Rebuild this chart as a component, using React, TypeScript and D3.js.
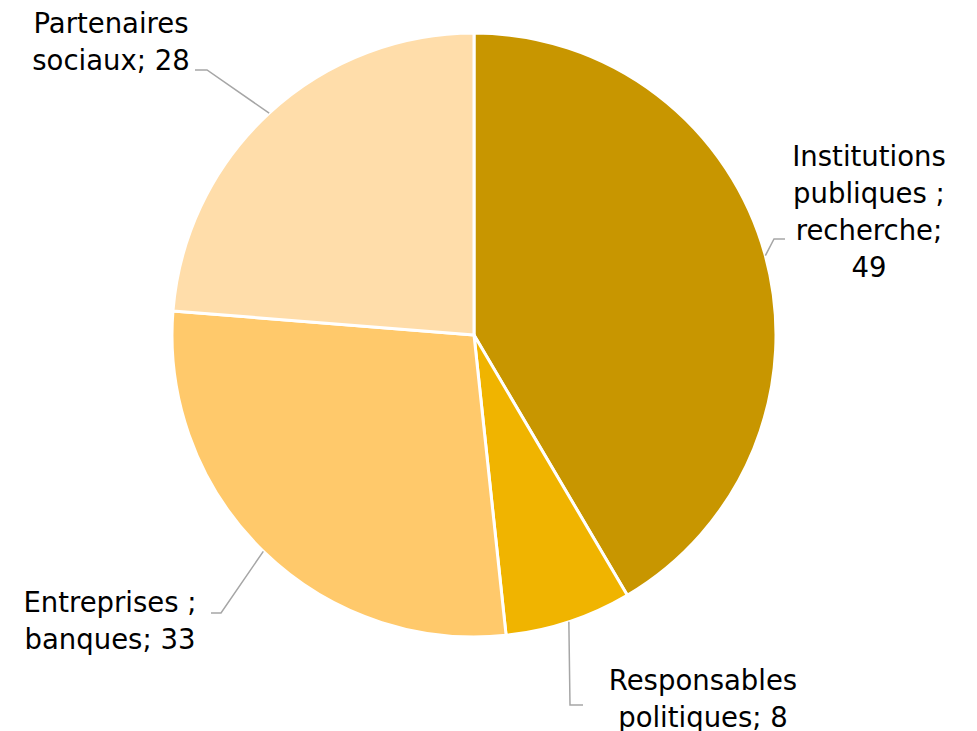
import * as d3 from "d3";

const categories = [
  "Institutions publiques ; recherche",
  "Responsables politiques",
  "Entreprises ; banques",
  "Partenaires sociaux",
];
const values = [49, 8, 33, 28];
const colors = ["#C89600", "#F0B400", "#FFC96B", "#FFDDAA"];
const labelLines = [
  ["Institutions", "publiques ;", "recherche;", "49"],
  ["Responsables", "politiques; 8"],
  ["Entreprises ;", "banques; 33"],
  ["Partenaires", "sociaux; 28"],
];

// layout: label text anchor (middle x, first baseline) and leader elbow/end
const labelLayout = [
  { x: 869, y: 166, elbow: [774, 239], end: [785, 239] },
  { x: 703, y: 690, elbow: [570, 705], end: [583, 705] },
  { x: 110, y: 612, elbow: [221, 613], end: [211, 613] },
  { x: 111, y: 33, elbow: [207, 70], end: [195, 70] },
];

const width = 977;
const height = 731;
const cx = 474;
const cy = 335;
const radius = 302;
const lineHeight = 37;

export default function App() {
  const pie = d3
    .pie<number>()
    .sort(null)
    .value((d) => d);
  const arcs = pie(values);
  const arc = d3.arc<d3.PieArcDatum<number>>().innerRadius(0).outerRadius(radius);

  return (
    <svg
      width={width}
      height={height}
      viewBox={`0 0 ${width} ${height}`}
      style={{ position: "absolute", left: 0, top: 0, background: "#fff" }}
      fontFamily="'DejaVu Sans', sans-serif"
    >
      <g transform={`translate(${cx},${cy})`}>
        {arcs.map((a, i) => (
          <path
            key={categories[i]}
            d={arc(a) ?? ""}
            fill={colors[i]}
            stroke="#fff"
            strokeWidth={3}
            strokeLinejoin="round"
          />
        ))}
      </g>
      {arcs.map((a, i) => {
        const mid = (a.startAngle + a.endAngle) / 2;
        const sx = cx + radius * Math.sin(mid);
        const sy = cy - radius * Math.cos(mid);
        const l = labelLayout[i];
        return (
          <g key={"lbl" + i}>
            <polyline
              points={`${sx},${sy} ${l.elbow[0]},${l.elbow[1]} ${l.end[0]},${l.end[1]}`}
              fill="none"
              stroke="#A6A6A6"
              strokeWidth={1.5}
            />
            <text
              x={l.x}
              y={l.y}
              textAnchor="middle"
              fontSize={27.5}
              fill="#000"
            >
              {labelLines[i].map((t, j) => (
                <tspan key={j} x={l.x} y={l.y + j * lineHeight}>
                  {t}
                </tspan>
              ))}
            </text>
          </g>
        );
      })}
    </svg>
  );
}
